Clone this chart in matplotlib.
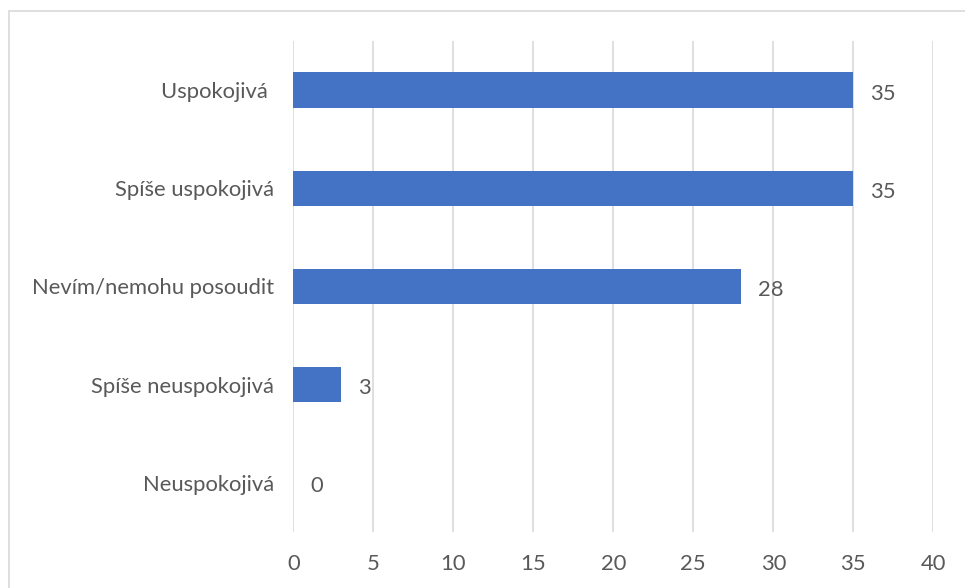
import matplotlib
matplotlib.use("Agg")
import matplotlib.pyplot as plt
from matplotlib.patches import Rectangle

categories = ["Uspokojivá ", "Spíše uspokojivá", "Nevím/nemohu posoudit",
              "Spíše neuspokojivá", "Neuspokojivá"]
values = [35, 35, 28, 3, 0]
x_ticks = [0, 5, 10, 15, 20, 25, 30, 35, 40]

W, H = 965, 588
plt.rcParams["font.family"] = ["Lato", "DejaVu Sans"]
text_color = "#595959"
bar_color = "#4472C4"
fs = 15.8

fig = plt.figure(figsize=(W / 100, H / 100), dpi=100)
ax = fig.add_axes([293.3 / W, 1 - 532 / H, (933.3 - 293.3) / W, (532 - 41) / H])

y = list(range(len(categories)))
ax.barh(y, values, height=0.36, color=bar_color, zorder=3)
ax.set_ylim(len(categories) - 0.5, -0.5)
ax.set_xlim(0, 40)
ax.set_xticks(x_ticks)
ax.set_xticklabels([str(t) for t in x_ticks])
ax.set_yticks(y)
ax.set_yticklabels(categories)

for yi, v in zip(y, values):
    ax.annotate(str(v), (v, yi), xytext=(12, -2.5), textcoords="offset points",
                ha="left", va="center", fontsize=fs, color=text_color)

ax.grid(axis="x", color="#D9D9D9", linewidth=1.2, zorder=0)
ax.tick_params(axis="both", length=0, labelsize=fs, colors=text_color)
ax.tick_params(axis="y", pad=14)
ax.tick_params(axis="x", pad=16)
for s in ax.spines.values():
    s.set_visible(False)

# chart-area frame
fig.patches.append(Rectangle((8.5 / W, -0.1), 1.2, 1 - 11.5 / H + 0.1,
                             transform=fig.transFigure, fill=False,
                             edgecolor="#D9D9D9", linewidth=1.2))

fig.savefig("out.png", dpi=100)
